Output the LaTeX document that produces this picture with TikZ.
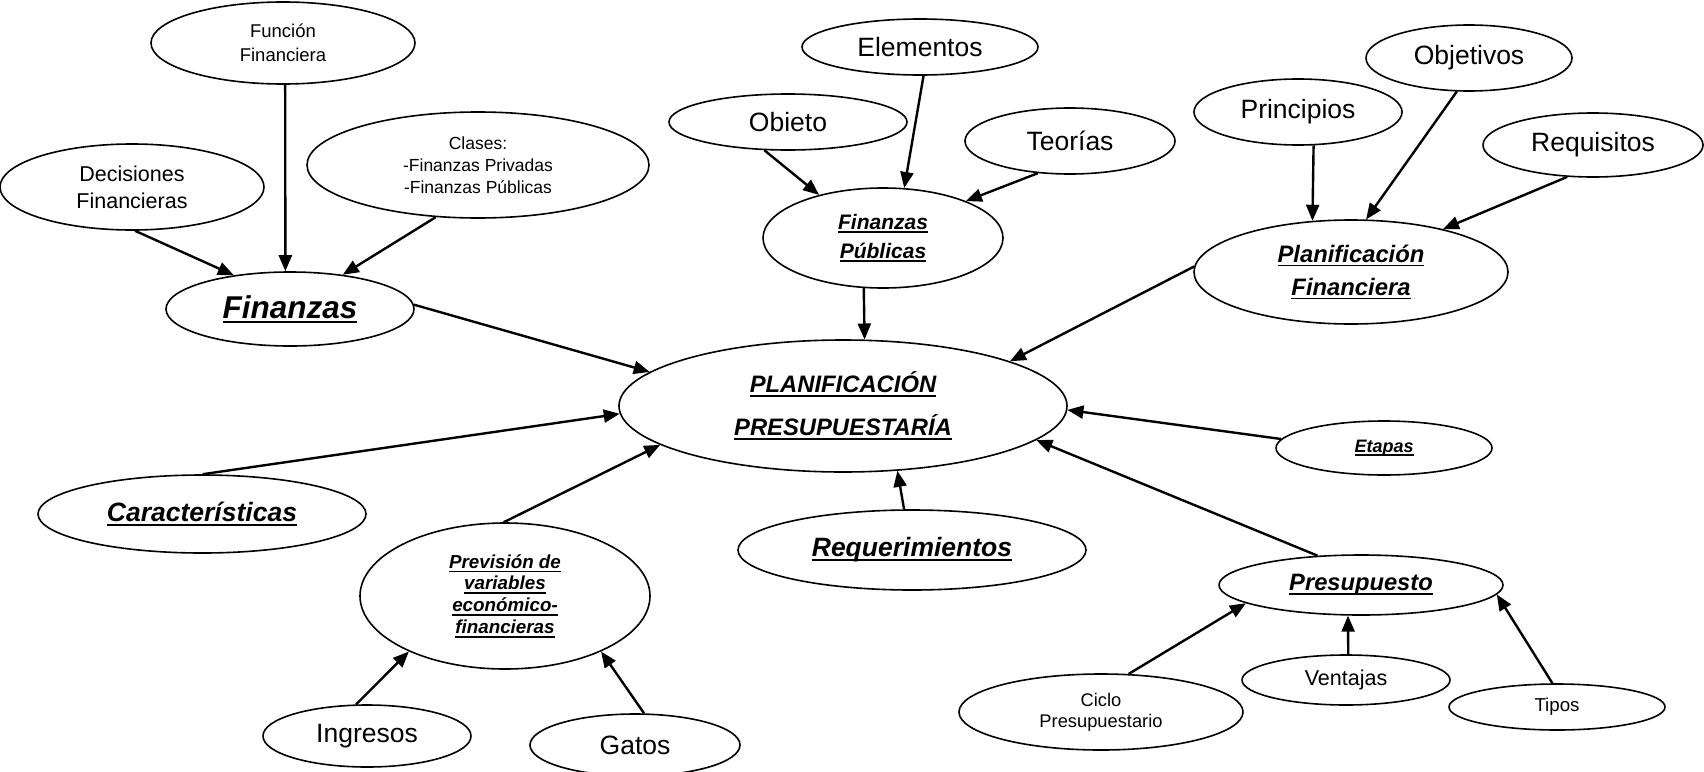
\documentclass[tikz,border=0pt]{standalone}
\usepackage{fontspec}
\setmainfont{Liberation Sans}
\usetikzlibrary{shapes.geometric,arrows.meta}
\newcommand{\fsz}[2]{\fontsize{#1}{#2}\selectfont}
\newsavebox{\ulbox}
\newcommand{\bui}[1]{\sbox{\ulbox}{#1}\leavevmode\rlap{\vrule height -2.4pt depth 4.2pt width \wd\ulbox}\usebox{\ulbox}}
\begin{document}
\begin{tikzpicture}[x=1pt,y=-1pt,
  el/.style={ellipse, draw, line width=1.6pt, inner sep=0pt, align=center},
  arr/.style={-{Triangle[length=16pt,width=13pt]}, line width=2.4pt}]
\useasboundingbox (0,0) rectangle (1704,771);
% top-left group
\node[el, minimum width=264pt, minimum height=82pt, font={\fsz{18.5}{24}}] (fun) at (283,43) {Función\\Financiera};
\node[el, minimum width=264pt, minimum height=86pt, font={\fsz{21.5}{27}}] (dec) at (132,187) {Decisiones\\Financieras};
\node[el, minimum width=342pt, minimum height=106pt, font={\fsz{17.5}{22}}] (cla) at (478,165) {Clases:\\-Finanzas Privadas\\-Finanzas Públicas};
\node[el, minimum width=248pt, minimum height=74pt, font={\fsz{31.5}{34}\bfseries\itshape}] (fin) at (290,309) {\bui{Finanzas}};
% top-middle group
\node[el, minimum width=236pt, minimum height=56pt, font={\fsz{26.5}{30}}] (ele) at (920,47) {Elementos};
\node[el, minimum width=238pt, minimum height=56pt, font={\fsz{26.5}{30}}] (obi) at (788,122) {Obieto};
\node[el, minimum width=210pt, minimum height=66pt, font={\fsz{26.5}{30}}] (teo) at (1070,141) {Teorías};
\node[el, minimum width=240pt, minimum height=100pt, font={\fsz{21}{29}\bfseries\itshape}] (fp) at (883,238) {\bui{Finanzas}\\\bui{Públicas}};
% top-right group
\node[el, minimum width=208pt, minimum height=66pt, font={\fsz{26.5}{30}}] (pri) at (1298,112) {Principios};
\node[el, minimum width=206pt, minimum height=66pt, font={\fsz{26.5}{30}}] (obv) at (1469,58) {Objetivos};
\node[el, minimum width=220pt, minimum height=64pt, font={\fsz{26.5}{30}}] (req) at (1593,145) {Requisitos};
\node[el, minimum width=314pt, minimum height=104pt, font={\fsz{23.8}{33}\bfseries\itshape}] (pf) at (1351,272) {\bui{Planificación}\\\bui{Financiera}};
% centre
\node[el, minimum width=448pt, minimum height=132pt, font={\fsz{23.8}{43}\bfseries\itshape}] (pp) at (843,406) {\bui{PLANIFICACIÓN}\\\bui{PRESUPUESTARÍA}};
\node[el, minimum width=216pt, minimum height=54pt, font={\fsz{18}{20}\bfseries\itshape}] (eta) at (1384,448) {\bui{Etapas}};
\node[el, minimum width=328pt, minimum height=78pt, font={\fsz{26.5}{30}\bfseries\itshape}] (car) at (202,514) {\bui{Características}};
\node[el, minimum width=348pt, minimum height=80pt, font={\fsz{26.5}{30}\bfseries\itshape}] (rqm) at (912,550) {\bui{Requerimientos}};
\node[el, minimum width=290pt, minimum height=146pt, font={\fsz{18.8}{21.7}\bfseries\itshape}] (prev) at (505,596) {\bui{Previsión de}\\\bui{variables}\\\bui{económico-}\\\bui{financieras}};
\node[el, minimum width=284pt, minimum height=60pt, font={\fsz{23.7}{27}\bfseries\itshape}] (pre) at (1361,585) {\bui{Presupuesto}};
% bottom
\node[el, minimum width=208pt, minimum height=62pt, font={\fsz{26.5}{30}}] (ing) at (367,736) {Ingresos};
\node[el, minimum width=210pt, minimum height=62pt, font={\fsz{26.5}{30}}] (gat) at (635,745) {Gatos};
\node[el, minimum width=284pt, minimum height=76pt, font={\fsz{18.3}{21}}] (cic) at (1101,712) {Ciclo\\Presupuestario};
\node[el, minimum width=208pt, minimum height=50pt, font={\fsz{21.5}{24}}] (ven) at (1346,680) {Ventajas};
\node[el, minimum width=216pt, minimum height=46pt, font={\fsz{18.7}{22}}] (tip) at (1557,707) {Tipos};
% connectors
\draw[arr] (dec.-86) -- (fin.149);
\draw[arr] (fun.-87.2) -- (fin.97.7);
\draw[arr] (cla.-129.6) -- (fin.33.5);
\draw[arr] (fin.2) -- (pp.170.3);
\draw[arr] (obi.-130.6) -- (fp.146.3);
\draw[arr] (ele.-83) -- (fp.67);
\draw[arr] (teo.-135) -- (fp.24.3);
\draw[arr] (fp.-111) -- (pp.72.3);
\draw[arr] (pri.-65.4) -- (pf.127);
\draw[arr] (obv.-110) -- (pf.74.5);
\draw[arr] (req.-129) -- (pf.25.3);
\draw[arr] (pf.178) -- (pp.15.4);
\draw[arr] (eta.175.7) -- (pp.-1.3);
\draw[arr] (car.89) -- (pp.-178.7);
\draw[arr] (prev.91.5) -- (pp.-168.8);
\draw[arr] (rqm.101.6) -- (pp.-50.4);
\draw[arr] (pre.146.3) -- (pp.-10.7);
\draw[arr] (ing.109) -- (prev.-150.7);
\draw[arr] (gat.74) -- (prev.-30.2);
\draw[arr] (cic.54.9) -- (pre.-171.6);
\draw[arr] (ven.85) -- (pre.-113.5);
\draw[arr] (tip.101) -- (pre.-4.1);
\end{tikzpicture}
\end{document}
